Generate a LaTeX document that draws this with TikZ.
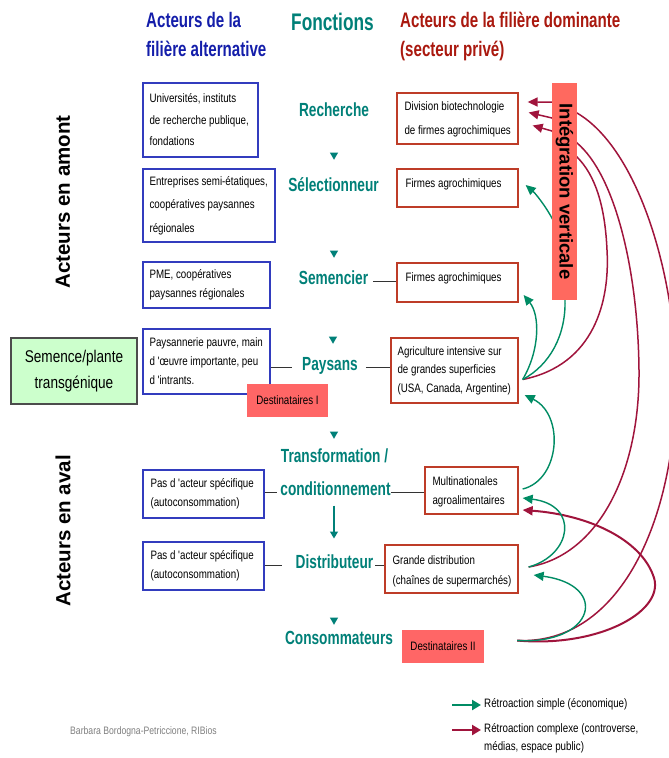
\documentclass[tikz,border=0pt]{standalone}
\usepackage{fontspec}
\setmainfont{Liberation Sans}
\newfontfamily\narrowfont[FakeStretch=0.8]{Liberation Sans}
\newfontfamily\condfont[FakeStretch=0.72]{Liberation Sans}
\usetikzlibrary{arrows.meta,shapes.geometric}
\definecolor{hblue}{RGB}{20,30,170}
\definecolor{boxblue}{RGB}{50,60,190}
\definecolor{fteal}{RGB}{0,128,120}
\definecolor{hred}{RGB}{170,25,15}
\definecolor{boxred}{RGB}{190,60,40}
\definecolor{barred}{RGB}{255,105,95}
\definecolor{destred}{RGB}{255,102,102}
\definecolor{semgreen}{RGB}{204,255,204}
\definecolor{fbgreen}{RGB}{0,140,100}
\definecolor{fbred}{RGB}{160,20,60}
\newcommand\smf[1]{\narrowfont\fontsize{12.2}{#1}\selectfont}
\begin{document}
\begin{tikzpicture}[x=1pt,y=-1pt,
  lbox/.style={draw=boxblue, line width=1.3pt, fill=white, inner sep=0pt},
  rbox/.style={lbox, draw=boxred},
  btxt/.style={anchor=west, inner sep=0pt, align=left, font=\smf{19}, text=black},
  func/.style={text=fteal, font=\condfont\bfseries\fontsize{19}{22}\selectfont, inner sep=0pt, anchor=mid},
  hdr/.style={font=\condfont\bfseries\fontsize{21}{25}\selectfont, inner sep=0pt, anchor=mid west},
  tri/.style={fill=fteal, regular polygon, regular polygon sides=3, shape border rotate=180, inner sep=0pt, minimum size=9.5pt},
  lnk/.style={draw=black!80, line width=1.2pt},
  fbg/.style={draw=fbgreen, line width=1.4pt, -{Triangle[length=10pt,width=9pt]}},
  fbr/.style={draw=fbred, line width=1.5pt, -{Triangle[length=10pt,width=9pt]}},
  dest/.style={fill=destred, font=\smf{15}, inner sep=0pt},
  side/.style={rotate=90, font=\bfseries\fontsize{20.5}{24}\selectfont, inner sep=0pt},
  leg/.style={anchor=mid west, inner sep=0pt, font=\smf{18}}]
\useasboundingbox (0,0) rectangle (669,758);
\fill[white] (0,0) rectangle (669,758);

% headers
\node[hdr, text=hblue] (h1a) at (146,25) {Acteurs de la};
\node[hdr, text=hblue] (h1b) at (146,54) {filière alternative};
\node[hdr, text=fteal, font=\condfont\bfseries\fontsize{24}{28}\selectfont] (h2) at (291,28) {Fonctions};
\node[hdr, text=hred] (h3a) at (400,25) {Acteurs de la filière dominante};
\node[hdr, text=hred] (h3b) at (400,54) {(secteur privé)};

% side labels
\node[side] (amont) at (63,202) {Acteurs en amont};
\node[side] (aval) at (63,531) {Acteurs en aval};

% left boxes
\node[lbox, minimum width=115pt, minimum height=74pt] (a1) at (200.5,120) {};
\node[btxt, font=\smf{21.5}] (a1t) at ([shift={(7,0)}]a1.west) {Universités, instituts\\de recherche publique,\\fondations};
\node[lbox, minimum width=132pt, minimum height=73pt] (a2) at (209,205.5) {};
\node[btxt, font=\smf{23.5}] (a2t) at ([shift={(7,0)}]a2.west) {Entreprises semi-étatiques,\\coopératives paysannes\\régionales};
\node[lbox, minimum width=127pt, minimum height=46pt] (a3) at (206.5,285) {};
\node[btxt] (a3t) at ([shift={(7,0)}]a3.west) {PME, coopératives\\paysannes régionales};
\node[lbox, minimum width=127pt, minimum height=65pt] (a4) at (206.5,361.5) {};
\node[btxt] (a4t) at ([shift={(7,0)}]a4.west) {Paysannerie pauvre, main\\d 'œuvre importante, peu\\d 'intrants.};
\node[lbox, minimum width=121pt, minimum height=48pt] (a5) at (203.5,494) {};
\node[btxt] (a5t) at ([shift={(8,0)}]a5.west) {Pas d 'acteur spécifique\\(autoconsommation)};
\node[lbox, minimum width=121pt, minimum height=48pt] (a6) at (203.5,566) {};
\node[btxt] (a6t) at ([shift={(8,0)}]a6.west) {Pas d 'acteur spécifique\\(autoconsommation)};

% right boxes
\node[rbox, minimum width=121pt, minimum height=51pt] (r1) at (457.5,118.5) {};
\node[btxt, font=\smf{24}] (r1t) at ([shift={(8,1)}]r1.west) {Division biotechnologie\\de firmes agrochimiques};
\node[rbox, minimum width=121pt, minimum height=38pt] (r2) at (457.5,188) {};
\node[btxt] (r2t) at ([shift={(9,-4)}]r2.west) {Firmes agrochimiques};
\node[rbox, minimum width=121pt, minimum height=39pt] (r3) at (457.5,282.5) {};
\node[btxt] (r3t) at ([shift={(9,-4)}]r3.west) {Firmes agrochimiques};
\node[rbox, minimum width=127pt, minimum height=65pt] (r4) at (454.5,370.5) {};
\node[btxt, font=\smf{18.5}] (r4t) at ([shift={(7,0)}]r4.west) {Agriculture intensive sur\\de grandes superficies\\(USA, Canada, Argentine)};
\node[rbox, minimum width=93pt, minimum height=47pt] (r5) at (471.5,490.5) {};
\node[btxt] (r5t) at ([shift={(8,1)}]r5.west) {Multinationales\\agroalimentaires};
\node[rbox, minimum width=133pt, minimum height=48pt] (r6) at (451.5,569) {};
\node[btxt, font=\smf{20}] (r6t) at ([shift={(8,2)}]r6.west) {Grande distribution\\(chaînes de supermarchés)};

% other boxes
\node[fill=semgreen, draw=black!70, line width=1.5pt, minimum width=126pt, minimum height=66pt, inner sep=0pt, align=center, font=\narrowfont\fontsize{17}{26}\selectfont] (sem) at (74,371) {Semence/plante\\transgénique};
\node[dest, minimum width=81pt, minimum height=33pt] (dest1) at (287.5,400.5) {Destinataires I};
\node[dest, minimum width=82pt, minimum height=33pt] (dest2) at (443,646.5) {Destinataires II};

% functions
\node[func] (rech) at (334,113.5) {Recherche};
\node[func] (sel) at (333.5,188.5) {Sélectionneur};
\node[func] (semc) at (333.5,281.5) {Semencier};
\node[func] (pays) at (330,367.5) {Paysans};
\node[func] (transf) at (334.5,459.5) {Transformation /};
\node[func] (cond) at (335.5,492.5) {conditionnement};
\node[func] (dist) at (334.5,565.5) {Distributeur};
\node[func] (cons) at (339,641.5) {Consommateurs};

\node[tri] (t1) at (334,155) {};
\node[tri] (t2) at (334,253) {};
\node[tri] (t3) at (333,339) {};
\node[tri] (t4) at (334,434) {};
\node[tri] (t5) at (334,620) {};

% links
\draw[lnk] ([shift={(5,0)}]semc.mid east) -- (semc.mid east -| r3.west);
\draw[lnk] (a4.east |- pays.mid) -- ([shift={(-10,0)}]pays.mid west);
\draw[lnk] ([shift={(8,0)}]pays.mid east) -- (pays.mid -| r4.west);
\draw[lnk] (a5.east |- cond.mid) -- ([shift={(-3,0)}]cond.mid west);
\draw[lnk] (cond.mid east) -- (cond.mid -| r5.west);
\draw[lnk] (a6.east |- dist.mid) -- ([shift={(-14,0)}]dist.mid west);
\draw[lnk] ([shift={(2,0)}]dist.mid east) -- (dist.mid -| r6.west);
\draw[draw=fteal, line width=1.2pt, -{Triangle[length=7pt,width=8pt]}] ([shift={(-1.5,13)}]cond.mid) -- ([shift={(-0.5,-27)}]dist.mid);

% feedback start points
\coordinate (consfb) at ([shift={(33,-6)}]dest2.east);
\coordinate (agrfb) at ([shift={(4,9)}]r4.east);
\coordinate (multfb) at ([shift={(4,-1.5)}]r5.east);
\coordinate (distfb) at ([shift={(10,-2)}]r6.east);

% crimson feedback
\draw[fbr] (consfb) .. controls (620,645) and (676,520) .. (676,380) .. controls (676,280) and (640,150) .. (577,113) -- (552,102) -- ([shift={(9,-16.5)}]r1.east);
\draw[fbr] (distfb) .. controls (600,555) and (640,470) .. (639,370) .. controls (638,270) and (615,175) .. (577,143) -- (552,118) -- ([shift={(10,-6)}]r1.east);
\draw[fbr] (agrfb) .. controls (595,365) and (610,300) .. (607,250) .. controls (605,205) and (595,175) .. (577,157) -- (552,131) -- ([shift={(14,7)}]r1.east);
\draw[fbr, line width=2pt] (consfb) .. controls (600,648) and (668,610) .. (653,575) .. controls (640,540) and (590,515) .. ([shift={(4,19.5)}]r5.east);

% green feedback
\draw[fbg] (agrfb) .. controls (550,365) and (566,335) .. (565,300) -- (553,220) .. controls (545,205) and (535,193) .. ([shift={(7,-3)}]r2.east);
\draw[fbg] (agrfb) .. controls (540,350) and (540,315) .. ([shift={(5,12.5)}]r3.east);
\draw[fbg] (multfb) .. controls (560,480) and (565,415) .. ([shift={(6,24.5)}]r4.east);
\draw[fbg] (distfb) .. controls (572,555) and (580,505) .. ([shift={(4,7.5)}]r5.east);
\draw[fbg] (consfb) .. controls (595,645) and (610,585) .. ([shift={(15,6)}]r6.east);

% vertical integration bar
\node[fill=barred, rotate=-90, minimum width=217pt, minimum height=25pt, inner sep=0pt, font=\bfseries\fontsize{18.5}{20}\selectfont] (intv) at (564.5,191.5) {Intégration verticale};

% legend
\node[leg] (leg1) at (484,705) {Rétroaction simple (économique)};
\node[leg] (leg2a) at (484,730) {Rétroaction complexe (controverse,};
\node[leg] (leg2b) at (484,748) {médias, espace public)};
\draw[draw=fbgreen, line width=2.5pt, -{Triangle[length=9pt,width=10pt]}] ([shift={(-32,0)}]leg1.mid west) -- ([shift={(-3,0)}]leg1.mid west);
\draw[draw=fbred, line width=2.5pt, -{Triangle[length=9pt,width=10pt]}] ([shift={(-32,0)}]leg2a.mid west) -- ([shift={(-3,0)}]leg2a.mid west);

% credit
\node[anchor=mid west, inner sep=0pt, text=gray, font=\narrowfont\fontsize{10.8}{13}\selectfont] (credit) at (70,732) {Barbara Bordogna-Petriccione, RIBios};
\end{tikzpicture}
\end{document}
